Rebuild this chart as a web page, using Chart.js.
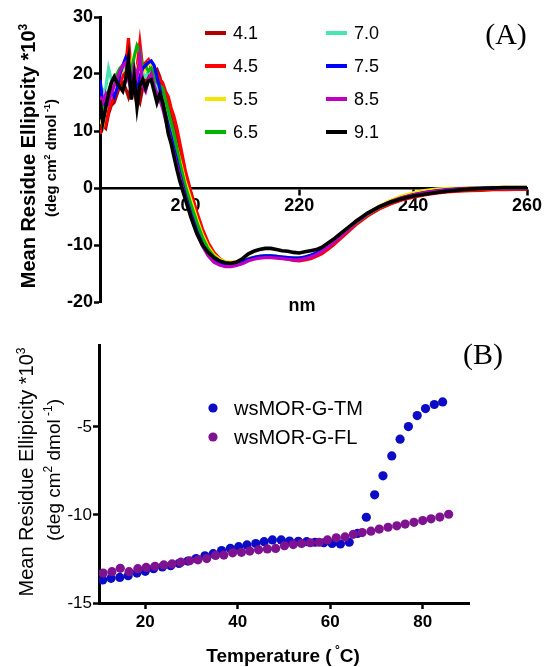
<!DOCTYPE html>
<html><head><meta charset="utf-8">
<script src="https://cdn.jsdelivr.net/npm/chart.js@4.4.1/dist/chart.umd.min.js"></script>
<style>
html,body{margin:0;padding:0;background:#fff;}
#wrap{position:relative;width:544px;height:667px;background:#fff;overflow:hidden;}
canvas{position:absolute;left:0;}
</style></head><body>
<div id="wrap">
<canvas id="cA" width="544" height="320" style="top:0;width:544px;height:320px"></canvas>
<canvas id="cB" width="544" height="347" style="top:320px;width:544px;height:347px"></canvas>
</div>
<script>
// ---------- Panel A data ----------
const wavelengths = [185,185.5,186,186.5,187,187.5,188,188.5,189,189.5,190,190.5,191,191.5,192,192.5,193,193.5,194,194.5,195,195.5,196,196.5,197,197.5,198,198.5,199,
200,201,202,203,204,205,206,207,208,209,210,211,212,213,214,215,216,217,218,219,220,221,222,223,224,225,226,227,228,229,230,
232,234,236,238,240,242,244,246,248,250,252,254,256,258,260];
const phLabels = ['4.1','4.5','5.5','6.5','7.0','7.5','8.5','9.1'];
const phColors = ['#b00000','#ff0000','#f0e600','#00b400','#48e4b4','#0000ff','#c000c0','#000000'];
const ph41 = [10.5,11,10.5,13,14.5,15,16.5,18,18.5,17.5,16,18,20,16,15,17.5,19,20,19,20.5,20.8,19.5,17.5,16,14,12.5,10.5,8.5,6.5,
1.5,-1.8,-5,-7.8,-10,-11.6,-12.6,-13.2,-13.4,-13.3,-13,-12.6,-12.3,-12.1,-12,-12,-12.1,-12.2,-12.4,-12.5,-12.6,-12.4,-12.2,-11.8,-11.3,-10.6,-9.8,-8.9,-8,-7.1,-6.2,
-4.8,-3.6,-2.7,-2,-1.5,-1.1,-0.8,-0.6,-0.45,-0.35,-0.3,-0.25,-0.2,-0.2,-0.2];
const ph45 = [9.5,10.5,11,13.5,15,16,17,18.5,19.5,21,26.3,20,17,21,25.5,21,22,22.5,21,20.5,20,19,18.5,17,16,14,12.5,10.5,8,
3,-0.8,-4.2,-7.2,-9.6,-11.3,-12.4,-13,-13.3,-13.3,-13,-12.6,-12.3,-12.1,-12,-12,-12.1,-12.3,-12.5,-12.7,-12.8,-12.6,-12.4,-12,-11.5,-10.8,-10,-9.1,-8.2,-7.3,-6.4,
-4.9,-3.7,-2.8,-2.1,-1.6,-1.2,-0.9,-0.7,-0.55,-0.45,-0.4,-0.3,-0.3,-0.25,-0.25];
const ph55 = [12,11,14,15.5,17,18,19,20,20.5,21.5,20,22,19,21,22.5,20,21,22,21.5,20,19,17.5,16,14.5,13,11,9,7,5,
1,-2.2,-5.4,-8.2,-10.3,-11.7,-12.5,-12.9,-13,-12.9,-12.6,-12.3,-12.1,-12,-11.9,-11.9,-12,-12.1,-12.2,-12.3,-12.3,-12.1,-11.8,-11.4,-10.9,-10.2,-9.4,-8.5,-7.6,-6.7,-5.9,
-4.5,-3.2,-2.2,-1.4,-0.85,-0.45,-0.2,-0.05,0,0.05,0.05,0.1,0.1,0.1,0.1];
const ph65 = [13,14,16,17,18.5,19.5,20,21,21.5,22,21,20.5,23,25,24,21,21.5,20.5,21,20,18.5,18,17.5,15.5,13.5,11.5,9.5,7,4.5,
0.3,-3,-6,-8.7,-10.7,-12,-12.8,-13.2,-13.3,-13.2,-12.9,-12.5,-12.2,-12,-11.9,-11.9,-12,-12.1,-12.2,-12.3,-12.3,-12.1,-11.9,-11.5,-10.9,-10.2,-9.4,-8.7,-7.8,-6.9,-6.1,
-4.6,-3.4,-2.5,-1.8,-1.3,-0.9,-0.6,-0.4,-0.25,-0.15,-0.1,-0.05,0,0,0];
const ph70 = [18,17,17.5,21,19,18.5,19,20,21,21.5,22,21,20,20.5,21.5,20,19.5,20.5,20,19,17.5,16,14.5,13,11,9,7,5,2.8,
-1.2,-4.5,-7.4,-9.8,-11.5,-12.6,-13.3,-13.6,-13.7,-13.5,-13.1,-12.6,-12.3,-12.1,-12,-12,-12.1,-12.2,-12.3,-12.4,-12.4,-12.2,-11.9,-11.5,-10.9,-10.2,-9.4,-8.6,-7.7,-6.8,-6,
-4.6,-3.4,-2.5,-1.8,-1.3,-0.9,-0.6,-0.35,-0.2,-0.1,-0.05,0,0,0.05,0.05];
const ph75 = [19,15,14.5,16.5,17,16,17.5,20,21.5,22.8,21.5,19,20,18,19.5,21,21.5,22,22.3,21.5,19.5,17.5,15,13,11,9,6.8,4.8,2.5,
-1.3,-4.6,-7.5,-9.9,-11.6,-12.6,-13.2,-13.5,-13.5,-13.3,-12.9,-12.5,-12.2,-12,-11.9,-11.9,-12,-12.1,-12.2,-12.3,-12.3,-12.1,-11.8,-11.4,-10.8,-10.1,-9.4,-8.5,-7.6,-6.7,-5.9,
-4.5,-3.3,-2.4,-1.7,-1.2,-0.8,-0.5,-0.3,-0.15,-0.05,0,0.05,0.05,0.05,0.05];
const ph85 = [16,15,16.5,15,16.5,18,19,20.5,21.5,22,19,17,21,19.5,23,18,17,19,20,18,16.5,15.5,14,12,10,8,6,4,2,
-1.8,-5,-7.9,-10.2,-11.9,-13,-13.5,-13.8,-13.8,-13.6,-13.3,-12.8,-12.5,-12.3,-12.2,-12.2,-12.3,-12.4,-12.5,-12.6,-12.6,-12.4,-12.1,-11.7,-11.1,-10.4,-9.6,-8.7,-7.8,-6.9,-6,
-4.5,-3.3,-2.4,-1.7,-1.2,-0.8,-0.55,-0.35,-0.2,-0.1,-0.05,0,0,0,0];
const ph91 = [15.4,11.5,14,16.5,18.5,19.5,18.5,17.7,17,19,22.5,15.5,19.5,14.2,18,19,17.5,18.8,19,17,15,16.5,15,12.5,9.5,7.8,5.5,3.3,1.3,
-2,-5.2,-8,-10,-11.3,-12.2,-12.8,-13.1,-13.2,-13,-12.4,-11.6,-11.1,-10.8,-10.6,-10.6,-10.8,-11,-11.1,-11.3,-11.4,-11.2,-11,-10.8,-10.4,-9.7,-9,-8.2,-7.4,-6.6,-5.8,
-4.4,-3.3,-2.5,-1.9,-1.4,-1.1,-0.8,-0.55,-0.35,-0.2,-0.1,0,0.1,0.1,0.1];
const phSeries = [ph41, ph45, ph55, ph65, ph70, ph75, ph85, ph91];
const drawOrder = [7, 6, 5, 3, 4, 2, 1, 0]; // lower = drawn on top
const xTicksA = [200, 220, 240, 260];
const yTicksA = [-20, -10, 0, 10, 20, 30];

// ---------- Panel B data ----------
const tmTemps = [10.8,12.6,14.5,16.3,18.2,20.0,21.8,23.7,25.5,27.3,29.2,31.0,32.9,34.7,36.5,38.4,40.2,42.0,43.9,45.7,47.5,49.4,51.2,53.1,54.9,56.7,58.6,60.4,62.2,64.1,65.9,67.8,69.6,71.4,73.3,75.1,76.9,78.8,80.6,82.5,84.3];
const tmValues = [-13.69,-13.6,-13.55,-13.45,-13.3,-13.2,-13.05,-12.95,-12.88,-12.75,-12.62,-12.48,-12.32,-12.2,-12.02,-11.9,-11.8,-11.7,-11.62,-11.52,-11.42,-11.42,-11.48,-11.5,-11.52,-11.55,-11.58,-11.62,-11.65,-11.55,-11.05,-10.13,-8.86,-7.78,-6.65,-5.70,-4.98,-4.36,-3.96,-3.73,-3.58];
const flTemps = [10.9,12.8,14.6,16.5,18.4,20.2,22.1,24.0,25.8,27.7,29.6,31.4,33.3,35.2,37.0,38.9,40.8,42.6,44.5,46.4,48.2,50.1,52.0,53.8,55.7,57.6,59.4,61.3,63.2,65.0,66.9,68.8,70.6,72.5,74.4,76.2,78.1,80.0,81.8,83.7,85.6];
const flValues = [-13.3,-13.22,-13.03,-13.22,-13.05,-12.98,-12.92,-12.84,-12.78,-12.68,-12.6,-12.55,-12.48,-12.3,-12.28,-12.15,-12.12,-12.05,-11.98,-11.93,-11.9,-11.75,-11.68,-11.62,-11.58,-11.55,-11.42,-11.3,-11.25,-11.1,-11.0,-10.92,-10.8,-10.7,-10.62,-10.52,-10.42,-10.32,-10.22,-10.12,-9.96];
const bLabels = ['wsMOR-G-TM', 'wsMOR-G-FL'];
const bColors = ['#0c0cc6', '#7e1290'];
const xTicksB = [20, 40, 60, 80];
const yTicksB = [-15, -10, -5];

const SANS = '"Liberation Sans", Arial, sans-serif';
const SERIF = '"Liberation Serif", "Times New Roman", serif';

function drawRich(ctx, parts, x, y, size, weight, family, rotate, align) {
  ctx.save();
  ctx.translate(x, y);
  if (rotate) ctx.rotate(-Math.PI / 2);
  ctx.fillStyle = '#000';
  ctx.textBaseline = 'alphabetic';
  ctx.textAlign = 'left';
  const fontFor = p => weight + ' ' + (p.sup ? Math.round(size * 0.62) : size) + 'px ' + family;
  const widths = parts.map(p => { ctx.font = fontFor(p); return ctx.measureText(p.t).width; });
  const total = widths.reduce((a, b) => a + b, 0);
  let cx = align === 'left' ? 0 : -total / 2;
  const base = size * 0.36;
  parts.forEach((p, i) => {
    ctx.font = fontFor(p);
    ctx.fillText(p.t, cx, p.sup ? base - size * 0.42 : base);
    cx += widths[i];
  });
  ctx.restore();
}

function tickCb(arr) { return s => { s.ticks = arr.map(v => ({ value: v })); }; }

// ---------- Chart A ----------
const annotA = {
  id: 'annotA',
  afterDraw(chart) {
    const ctx = chart.ctx;
    drawRich(ctx, [{ t: 'Mean Residue Ellipicity *10' }, { t: '3', sup: true }], 28, 156, 20, 'bold', SANS, true);
    drawRich(ctx, [{ t: '(deg cm' }, { t: '2', sup: true }, { t: ' dmol' }, { t: ' -1', sup: true }, { t: ')' }], 51, 158, 15, 'bold', SANS, true);
    drawRich(ctx, [{ t: 'nm' }], 302, 305, 18, 'bold', SANS, false);
    drawRich(ctx, [{ t: '(A)' }], 506, 33, 30, 'normal', SERIF, false);
    phLabels.forEach((lab, i) => {
      const col = Math.floor(i / 4), row = i % 4;
      const x0 = col === 0 ? 205 : 326;
      const y = 33 + row * 33;
      ctx.save();
      ctx.strokeStyle = phColors[i];
      ctx.lineWidth = 4;
      ctx.beginPath(); ctx.moveTo(x0, y); ctx.lineTo(x0 + 21, y); ctx.stroke();
      ctx.restore();
      drawRich(ctx, [{ t: lab }], x0 + 28, y, 18, 'normal', SANS, false, 'left');
    });
  }
};

new Chart(document.getElementById('cA'), {
  type: 'line',
  data: {
    datasets: phSeries.map((arr, i) => ({
      label: phLabels[i],
      data: wavelengths.map((w, j) => ({ x: w, y: arr[j] })),
      borderColor: phColors[i],
      borderWidth: i === 7 ? 3.6 : 3.2,
      order: drawOrder[i],
      pointRadius: 0,
      tension: 0,
      fill: false
    }))
  },
  options: {
    responsive: false, animation: false, devicePixelRatio: 1,
    layout: { padding: { left: 0, right: 17, top: 17, bottom: 18 } },
    plugins: { legend: { display: false }, tooltip: { enabled: false } },
    scales: {
      x: {
        type: 'linear', min: 185, max: 260, position: { y: 0 },
        afterBuildTicks: tickCb(xTicksA),
        afterFit: s => { s.paddingLeft = 0; s.paddingRight = 0; },
        grid: { drawOnChartArea: false, drawTicks: true, tickLength: 6, tickWidth: 2.5, tickColor: '#000' },
        border: { display: true, width: 2.5, color: '#000' },
        ticks: { color: '#000', font: { family: SANS, size: 18, weight: 'bold' }, padding: 1, maxRotation: 0, autoSkip: false }
      },
      y: {
        type: 'linear', min: -20, max: 30,
        afterBuildTicks: tickCb(yTicksA),
        afterFit: s => { s.width = 100; s.paddingTop = 0; s.paddingBottom = 0; },
        grid: { drawOnChartArea: false, drawTicks: true, tickLength: 6, tickWidth: 2.5, tickColor: '#000' },
        border: { display: true, width: 3, color: '#000' },
        ticks: { color: '#000', font: { family: SANS, size: 18, weight: 'bold' }, padding: 1 }
      }
    }
  },
  plugins: [annotA]
});

// ---------- Chart B ----------
const annotB = {
  id: 'annotB',
  afterDraw(chart) {
    const ctx = chart.ctx;
    drawRich(ctx, [{ t: 'Mean Residue Ellipicity *10' }, { t: '3', sup: true }], 26, 152, 20, 'normal', SANS, true);
    drawRich(ctx, [{ t: '(deg cm' }, { t: '2', sup: true }, { t: ' dmol' }, { t: ' -1', sup: true }, { t: ')' }], 53, 150, 19, 'normal', SANS, true);
    drawRich(ctx, [{ t: 'Temperature (' }, { t: ' \u00B0', sup: true }, { t: 'C)' }], 283, 335, 19, 'bold', SANS, false);
    drawRich(ctx, [{ t: '(B)' }], 483, 33, 30, 'normal', SERIF, false);
    bLabels.forEach((lab, i) => {
      const y = 88 + i * 29;
      ctx.save();
      ctx.fillStyle = bColors[i];
      ctx.beginPath(); ctx.arc(213, y, 4.6, 0, Math.PI * 2); ctx.fill();
      ctx.restore();
      drawRich(ctx, [{ t: lab }], 234, y, 20, 'normal', SANS, false, 'left');
    });
  }
};

new Chart(document.getElementById('cB'), {
  type: 'scatter',
  data: {
    datasets: [
      { label: bLabels[0], data: tmTemps.map((t, j) => ({ x: t, y: tmValues[j] })), backgroundColor: bColors[0], borderWidth: 0, pointRadius: 4.6, order: 1 },
      { label: bLabels[1], data: flTemps.map((t, j) => ({ x: t, y: flValues[j] })), backgroundColor: bColors[1], borderWidth: 0, pointRadius: 4.6, order: 0 }
    ]
  },
  options: {
    responsive: false, animation: false, devicePixelRatio: 1,
    layout: { padding: { left: 0, right: 75, top: 25, bottom: 0 } },
    plugins: { legend: { display: false }, tooltip: { enabled: false } },
    scales: {
      x: {
        type: 'linear', min: 10, max: 90, position: 'bottom',
        afterBuildTicks: tickCb(xTicksB),
        afterFit: s => { s.height = 64; s.paddingLeft = 0; s.paddingRight = 0; },
        grid: { drawOnChartArea: false, drawTicks: true, tickLength: 6, tickWidth: 2.5, tickColor: '#000' },
        border: { display: true, width: 3, color: '#000' },
        ticks: { color: '#000', font: { family: SANS, size: 17, weight: 'bold' }, padding: 3, maxRotation: 0, autoSkip: false }
      },
      y: {
        type: 'linear', min: -15, max: -0.35,
        afterBuildTicks: tickCb(yTicksB),
        afterFit: s => { s.width = 99; s.paddingTop = 0; s.paddingBottom = 0; },
        grid: { drawOnChartArea: false, drawTicks: true, tickLength: 6, tickWidth: 2.5, tickColor: '#000' },
        border: { display: true, width: 3, color: '#000' },
        ticks: { color: '#000', font: { family: SANS, size: 17, weight: 'normal' }, padding: 1 }
      }
    }
  },
  plugins: [annotB]
});
</script>
</body></html>
